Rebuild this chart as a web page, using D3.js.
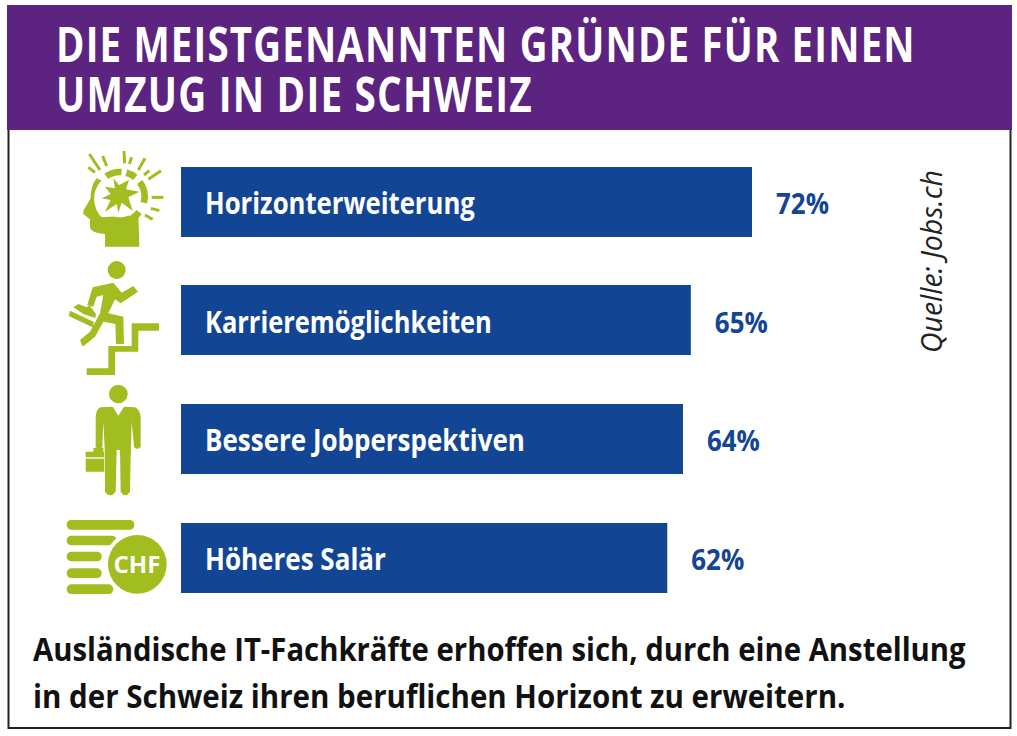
<!DOCTYPE html>
<html><head><meta charset="utf-8">
<script src="https://cdn.jsdelivr.net/npm/d3@7"></script>
<style>html,body{margin:0;padding:0;background:#fff}svg{display:block}text{font-family:"Open Sans",sans-serif;font-weight:700}</style>
</head><body><svg id="c" width="1017" height="736"></svg>
<script>
const categories=["Horizonterweiterung","Karrieremöglichkeiten","Bessere Jobperspektiven","Höheres Salär"];
const values=[72.8,65,64,62];
const valueLabels=["72%","65%","64%","62%"];
const titleLines=["DIE MEISTGENANNTEN GRÜNDE FÜR EINEN","UMZUG IN DIE SCHWEIZ"];
const footLines=["Ausländische IT-Fachkräfte erhoffen sich, durch eine Anstellung","in der Schweiz ihren beruflichen Horizont zu erweitern."];
const source="Quelle: Jobs.ch";
const BLUE="#134595",GREEN="#a2bd1f",PURPLE="#5c2480";

const svg=d3.select("#c");
svg.append("rect").attr("x",8.5).attr("y",60).attr("width",1002).attr("height",668).attr("fill","#fff").attr("stroke","#222").attr("stroke-width",2);
svg.append("rect").attr("x",7).attr("y",5).attr("width",1005).attr("height",125).attr("fill",PURPLE);

// place a text at (x,y) and squeeze it horizontally to the measured width
function fit(node,x,y,w,rot){
  const len=node.getComputedTextLength();
  node.setAttribute("transform",`translate(${x},${y})${rot?` rotate(${rot})`:""} scale(${w/len},1)`);
}
const titleW=[860,477];
svg.selectAll(".t").data(titleLines).join("text").attr("class","t").attr("font-size",49).attr("letter-spacing",1.5).attr("fill","#fff").text(d=>d)
 .each(function(d,i){fit(this,56,62+i*50,titleW[i]);});

const x=d3.scaleLinear().domain([0,72.8]).range([181,752]);
const h=70, ys=d3.scalePoint().domain(categories).range([167,523]);
const lblW=[270,287,320,181];
svg.selectAll(".bar").data(categories).join("rect").attr("class","bar").attr("x",x(0)).attr("y",d=>Math.round(ys(d))-(d==="Karrieremöglichkeiten"?1:0)).attr("height",h)
 .attr("width",(d,i)=>x(values[i])-x(0)).attr("fill",BLUE);
svg.selectAll(".cat").data(categories).join("text").attr("class","cat").attr("font-size",31).attr("fill","#fff").text(d=>d)
 .each(function(d,i){fit(this,205,ys(d)+47,lblW[i]);});
svg.selectAll(".val").data(valueLabels).join("text").attr("class","val").attr("font-size",28).attr("fill",BLUE).text(d=>d)
 .each(function(d,i){fit(this,x(values[i])+24,ys(categories[i])+47,53);});

svg.append("text").attr("font-size",30).attr("fill","#222").style("font-style","italic").style("font-weight",400).text(source)
 .each(function(){fit(this,942,353,183,-90);});

const footW=[933,813];
svg.selectAll(".f").data(footLines).join("text").attr("class","f").attr("font-size",32).attr("fill","#111").text(d=>d)
 .each(function(d,i){fit(this,33,661+i*47,footW[i]);});

// pictograms, drawn in a 3x local grid
const icon=(ox,oy)=>svg.append("g").attr("fill",GREEN).attr("transform",`translate(${ox},${oy}) scale(${1/3})`);

// head with compass star
const a=icon(50,140);
a.append("path").attr("d","M140 115 L155 122 C125 150 125 200 155 232 L265 225 L268 320 L165 320 L165 282 C150 280 125 280 120 262 L120 238 L100 222 L100 212 L122 175 C122 150 128 130 140 115 Z");
a.append("circle").attr("cx",210).attr("cy",170).attr("r",62).attr("fill","#fff");
a.append("path").attr("d","M190 115 L207 135 L237 120 L228 148 L268 155 L235 172 L248 212 L215 188 L205 218 L200 192 L165 215 L182 180 L155 175 L182 162 L165 140 L195 145 Z");
[[-0.59,0.06],[0.26,0.67],[0.93,1.82],[2.25,2.6]].forEach(([s,e])=>a.append("path").attr("transform","translate(210,170)")
  .attr("d",d3.arc()({innerRadius:64,outerRadius:84,startAngle:s,endAngle:e})));
[[118,42,150,90],[115,82,135,97],[158,48,170,78],[222,33,224,70],[245,52,238,72],[285,55,265,90],[298,92,282,105],[333,92,295,118],[340,172,305,172],[328,212,303,205],[308,238,285,225]]
 .forEach(r=>a.append("line").attr("x1",r[0]).attr("y1",r[1]).attr("x2",r[2]).attr("y2",r[3]).attr("stroke",GREEN).attr("stroke-width",9));

// runner on stairs
const b=icon(50,140);
b.append("circle").attr("cx",200).attr("cy",390).attr("r",27);
b.append("path").attr("d","M112 495 L128 442 L190 428 L215 458 L250 438 L264 455 L212 490 L195 478 L175 520 L220 530 L222 612 L198 612 L196 552 L160 545 L135 590 L98 620 L90 600 L120 575 L150 520 L160 465 L140 470 L130 500 Z");
b.append("path").attr("d","M70 502 L85 492 L110 502 L118 495 L138 522 L136 534 L100 522 Z M60 512 L132 546 L128 562 L56 528 Z");
b.append("path").attr("d","M245 550 L327 550 L327 572 L265 572 L265 635 L195 635 L195 705 L110 705 L110 685 L175 685 L175 618 L245 618 Z");

// man with briefcase
const c=icon(50,375);
c.append("circle").attr("cx",205).attr("cy",57).attr("r",28);
c.append("path").attr("d","M150 97 L188 95 L205 122 L222 95 L255 97 Q272 105 272 130 L272 215 Q262 228 252 215 L245 140 L242 250 L240 350 Q225 372 212 350 L210 225 L200 225 L197 350 Q180 372 165 350 L165 240 L160 140 L157 215 Q147 228 137 215 L137 130 Q137 105 150 97 Z");
c.append("path").attr("d","M107 230 L130 230 L130 218 L160 218 L160 230 L163 230 L163 290 L107 290 Z");
c.append("rect").attr("x",100).attr("y",247).attr("width",63).attr("height",4).attr("fill","#fff");

// coin stack
const d=icon(50,375);
[[435,253],[482,200],[530,155],[580,155],[628,190]].forEach(([t,r])=>d.append("rect").attr("x",50).attr("y",t).attr("width",r-50).attr("height",29).attr("rx",14));
d.append("circle").attr("cx",262).attr("cy",568).attr("r",100).attr("fill","#fff");
d.append("circle").attr("cx",262).attr("cy",568).attr("r",88);
svg.append("text").attr("font-size",24).attr("fill","#fff").text("CHF").each(function(){fit(this,113.5,573,47);});
</script></body></html>
